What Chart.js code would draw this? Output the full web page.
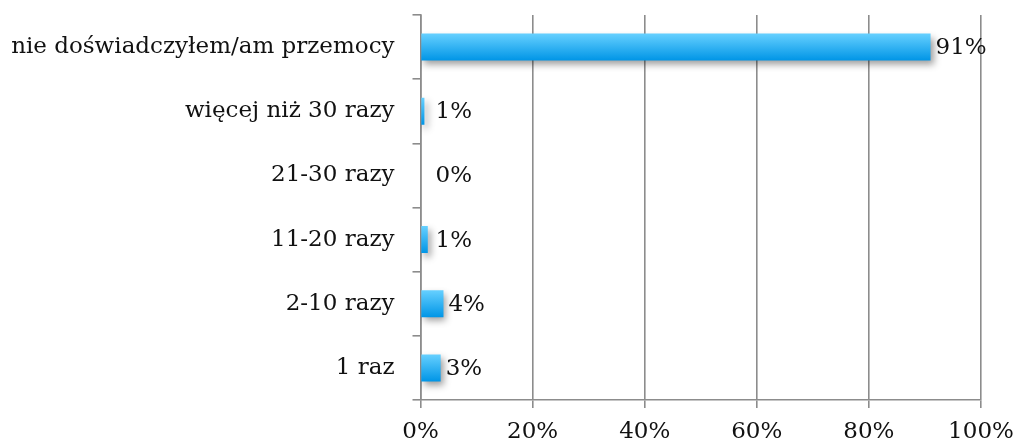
<!DOCTYPE html>
<html lang="pl">
<head>
    <meta charset="UTF-8">
    <title>Przemoc - wykres</title>
    <script src="https://cdn.jsdelivr.net/npm/chart.js"></script>
    <style>
        html, body { margin: 0; padding: 0; background: #fff; }
        #wrap { width: 1015px; height: 445px; position: relative; }
    </style>
</head>
<body>
    <div id="wrap"><canvas id="wykres"></canvas></div>

    <script>
        // Dane
        const kategorie = ['nie doświadczyłem/am przemocy', 'więcej niż 30 razy', '21-30 razy', '11-20 razy', '2-10 razy', '1 raz'];
        const wartosci = [91, 0.7, 0, 1.3, 4.1, 3.6];
        const etykiety = ['91%', '1%', '0%', '1%', '4%', '3%'];
        const osX = ['0%', '20%', '40%', '60%', '80%', '100%'];

        const czcionka = "'DejaVu Serif', 'Liberation Serif', serif";
        const szary = '#8c8c8c';
        const tekst = '#111';

        // gradient dla kazdego slupka (jasny u gory, ciemniejszy u dolu)
        function gradient(ctx) {
            const chart = ctx.chart;
            const y = chart.scales.y;
            if (!chart.chartArea || !y) return '#2fb4f5';
            const srodek = y.getPixelForValue(ctx.dataIndex);
            const h = (y.bottom - y.top) / kategorie.length * 0.42;
            const g = chart.ctx.createLinearGradient(0, srodek - h / 2, 0, srodek + h / 2);
            g.addColorStop(0, '#66d0ff');
            g.addColorStop(1, '#0095e6');
            return g;
        }

        const cien = {
            id: 'cien',
            beforeDatasetsDraw(chart) {
                const c = chart.ctx;
                c.save();
                c.shadowColor = 'rgba(0,0,0,0.38)';
                c.shadowBlur = 7;
                c.shadowOffsetX = 3;
                c.shadowOffsetY = 4;
            },
            afterDatasetsDraw(chart) {
                const c = chart.ctx;
                c.restore();
                const meta = chart.getDatasetMeta(0);
                const x0 = chart.scales.x.getPixelForValue(0);
                c.save();
                c.font = '23px ' + czcionka;
                c.fillStyle = tekst;
                c.textBaseline = 'middle';
                c.textAlign = 'left';
                meta.data.forEach((bar, i) => {
                    const x = Math.max(bar.x + 5, x0 + 15);
                    c.fillText(etykiety[i], x, bar.y + 1);
                });
                c.restore();
            }
        };

        new Chart(document.getElementById('wykres'), {
            type: 'bar',
            data: {
                labels: kategorie,
                datasets: [{
                    data: wartosci,
                    backgroundColor: gradient,
                    borderWidth: 0,
                    categoryPercentage: 0.6,
                    barPercentage: 0.7
                }]
            },
            options: {
                indexAxis: 'y',
                responsive: true,
                maintainAspectRatio: false,
                animation: false,
                layout: { padding: { top: 15, right: 34, left: 0, bottom: 0 } },
                plugins: {
                    legend: { display: false },
                    tooltip: { enabled: false }
                },
                scales: {
                    x: {
                        min: 0,
                        max: 100,
                        ticks: {
                            stepSize: 20,
                            color: tekst,
                            font: { family: czcionka, size: 23 },
                            padding: 10,
                            callback: (v, i) => osX[i]
                        },
                        grid: { color: szary, lineWidth: 1.6, tickLength: 8 },
                        border: { display: true, color: szary, width: 1.6 },
                        afterFit: s => { s.height = 45; s.paddingLeft = 0; s.paddingRight = 0; }
                    },
                    y: {
                        ticks: {
                            color: tekst,
                            font: { family: czcionka, size: 23 },
                            padding: 18
                        },
                        grid: { drawOnChartArea: false, drawTicks: true, tickLength: 8, color: szary, lineWidth: 1.6, offset: true },
                        border: { display: true, color: szary, width: 1.6 },
                        afterFit: s => { s.width = 420.5; s.paddingTop = 0; s.paddingBottom = 0; }
                    }
                }
            },
            plugins: [cien]
        });
    </script>
</body>
</html>
